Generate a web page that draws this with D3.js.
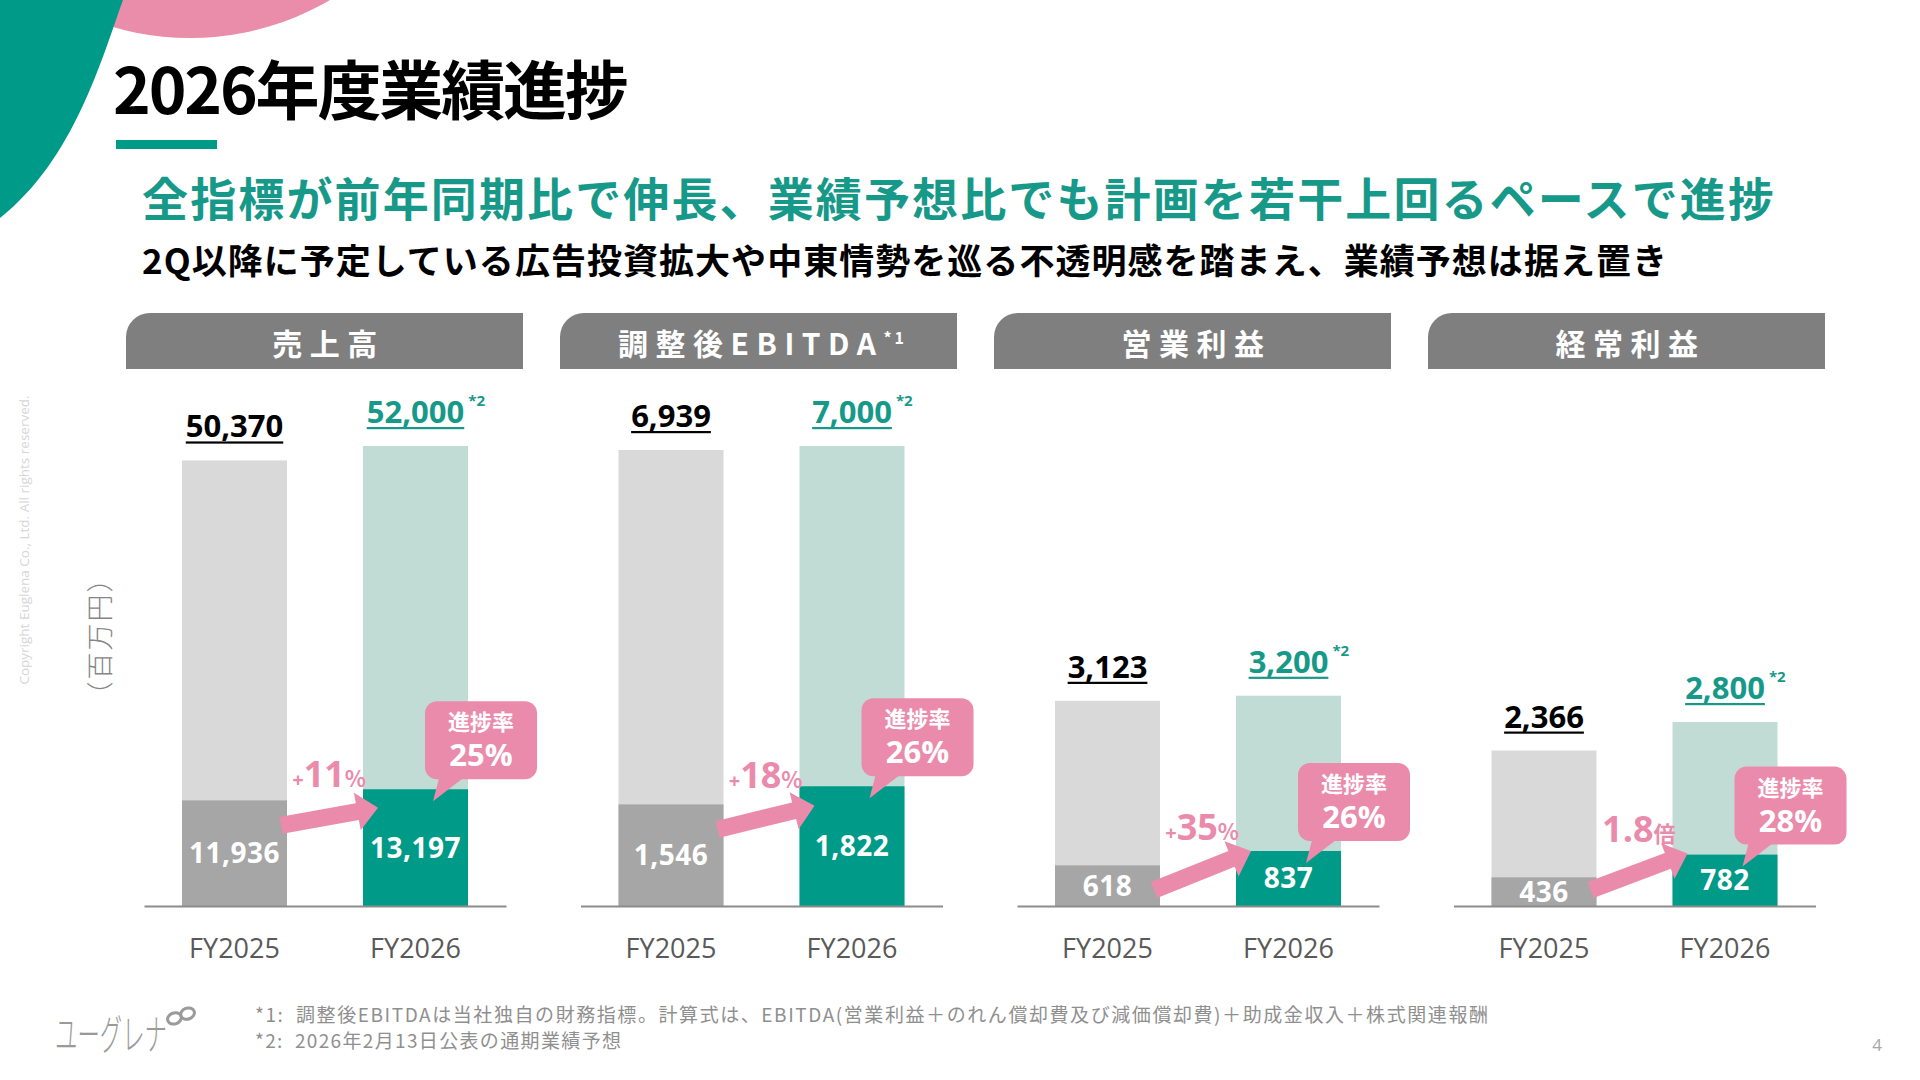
<!DOCTYPE html>
<html>
<head>
<meta charset="utf-8">
<script src="https://cdn.jsdelivr.net/npm/d3@7"></script>
<style>
  body { margin: 0; background: #fff; }
  svg text { font-family: 'Noto Sans CJK JP', 'Noto Sans', sans-serif; }
  svg .num { font-family: 'Open Sans', 'Noto Sans CJK JP', sans-serif; }
</style>
</head>
<body>
<div id="graf"></div>
<script>
// datos del grafico
const metrics = ['売上高', '調整後EBITDA', '営業利益', '経常利益']
const metricNotes = ['', '*1', '', '']
const years = ['FY2025', 'FY2026']
const full2025 = [50370, 6939, 3123, 2366]
const plan2026 = [52000, 7000, 3200, 2800]
const q1_2025 = [11936, 1546, 618, 436]
const q1_2026 = [13197, 1822, 837, 782]
const growthPrefix = ['+', '+', '+', '']
const growthValue = ['11', '18', '35', '1.8']
const growthSuffix = ['%', '%', '%', '倍']
const progressRate = ['25%', '26%', '26%', '28%']
const axisMax = [52000, 7000, 7000, 7000]

const fmt = d3.format(',')

// colores
const teal = '#009a88'
const tealText = '#17998a'
const pink = '#eb8bab'

const W = 1920, H = 1080
const svg = d3.select('#graf').append('svg')
  .attr('width', W).attr('height', H)

// decoracion superior izquierda
svg.append('circle')
  .attr('cx', 190).attr('cy', -239).attr('r', 277)
  .attr('fill', '#ea8dab')
svg.append('path')
  .attr('d', 'M0,0 L123,0 C102,58 74,160 0,218 Z')
  .attr('fill', teal)

// titulos
svg.append('text')
  .attr('x', 113).attr('y', 114)
  .attr('font-size', 64).attr('font-weight', 700).attr('fill', '#000')
  .attr('textLength', 516).attr('lengthAdjust', 'spacing')
  .text('2026年度業績進捗')
svg.append('rect')
  .attr('x', 116).attr('y', 140).attr('width', 101).attr('height', 9)
  .attr('fill', teal)

svg.append('text')
  .attr('x', 142).attr('y', 216)
  .attr('font-size', 46).attr('font-weight', 700).attr('fill', tealText)
  .attr('textLength', 1632).attr('lengthAdjust', 'spacing')
  .text('全指標が前年同期比で伸長、業績予想比でも計画を若干上回るペースで進捗')
svg.append('text')
  .attr('x', 142).attr('y', 274)
  .attr('font-size', 35).attr('font-weight', 700).attr('fill', '#000')
  .attr('textLength', 1525).attr('lengthAdjust', 'spacing')
  .text('2Q以降に予定している広告投資拡大や中東情勢を巡る不透明感を踏まえ、業績予想は据え置き')

// textos laterales
svg.append('text')
  .attr('transform', 'translate(29,540) rotate(-90)')
  .attr('class', 'num')
  .attr('text-anchor', 'middle')
  .attr('font-size', 13.5).attr('fill', '#d6d6d6')
  .text('Copyright Euglena Co., Ltd. All rights reserved.')
svg.append('text')
  .attr('transform', 'translate(110,636) rotate(-90)')
  .attr('text-anchor', 'middle')
  .attr('font-size', 27).attr('font-weight', 300).attr('fill', '#858585')
  .attr('letter-spacing', 2)
  .text('（百万円）')

// paneles
const baseY = 906
const plotH = 460
const headW = 397, headH = 56, headY = 313, headR = 24

function arrowPoints(S, T) {
  const dx = T[0] - S[0], dy = T[1] - S[1]
  const len = Math.hypot(dx, dy)
  const ux = dx / len, uy = dy / len
  const nx = -uy, ny = ux
  const bw = 8.5, hw = 19, hl = 21
  const bx = T[0] - ux * hl, by = T[1] - uy * hl
  return [
    [S[0] + nx * bw, S[1] + ny * bw],
    [bx + nx * bw, by + ny * bw],
    [bx + nx * hw, by + ny * hw],
    T,
    [bx - nx * hw, by - ny * hw],
    [bx - nx * bw, by - ny * bw],
    [S[0] - nx * bw, S[1] - ny * bw]
  ]
}

metrics.forEach((m, i) => {
  const cx = 325 + i * 436.5
  const hx = 126 + i * 434

  const g = svg.append('g')

  // cabecera gris
  g.append('path')
    .attr('d', `M${hx},${headY + headH} L${hx},${headY + headR} A${headR},${headR} 0 0 1 ${hx + headR},${headY} L${hx + headW},${headY} L${hx + headW},${headY + headH} Z`)
    .attr('fill', '#7f7f7f')
  const ht = g.append('text')
    .attr('x', hx + headW / 2 + 4).attr('y', headY + 42)
    .attr('text-anchor', 'middle')
    .attr('font-size', 30).attr('font-weight', 700).attr('fill', '#fff')
    .attr('letter-spacing', 7.5)
  ht.append('tspan').text(m)
  if (metricNotes[i]) {
    ht.append('tspan').attr('font-size', 16).attr('dy', -11).attr('letter-spacing', 3).text(metricNotes[i])
  }

  // escalas
  const x = d3.scaleBand()
    .domain(years)
    .range([cx - 181, cx + 181])
    .paddingInner(0.42)
    .paddingOuter(0.21)
  const y = d3.scaleLinear()
    .domain([0, axisMax[i]])
    .range([baseY, baseY - plotH])

  const rows = [
    { yr: 'FY2025', full: full2025[i], q1: q1_2025[i], light: '#d9d9d9', dark: '#a6a6a6', label: '#000' },
    { yr: 'FY2026', full: plan2026[i], q1: q1_2026[i], light: '#c0dcd5', dark: teal, label: tealText }
  ]

  g.selectAll('rect.full')
    .data(rows).enter().append('rect')
    .attr('class', 'full')
    .attr('x', d => x(d.yr)).attr('width', x.bandwidth())
    .attr('y', d => y(d.full)).attr('height', d => baseY - y(d.full))
    .attr('fill', d => d.light)
  g.selectAll('rect.q1')
    .data(rows).enter().append('rect')
    .attr('class', 'q1')
    .attr('x', d => x(d.yr)).attr('width', x.bandwidth())
    .attr('y', d => y(d.q1)).attr('height', d => baseY - y(d.q1))
    .attr('fill', d => d.dark)

  // valores anuales con subrayado
  rows.forEach((d, k) => {
    const bx = x(d.yr) + x.bandwidth() / 2
    const by = y(d.full) - 23
    const t = g.append('text')
      .attr('class', 'num')
      .attr('x', bx).attr('y', by)
      .attr('text-anchor', 'middle')
      .attr('font-size', 31).attr('font-weight', 700).attr('fill', d.label)
      .text(fmt(d.full))
    const tw = t.node().getComputedTextLength()
    g.append('rect')
      .attr('x', bx - tw / 2).attr('y', by + 4)
      .attr('width', tw).attr('height', 2.2)
      .attr('fill', d.label)
    if (k === 1) {
      g.append('text')
        .attr('class', 'num')
        .attr('x', bx + tw / 2 + 4).attr('y', by - 17)
        .attr('font-size', 15).attr('font-weight', 700).attr('fill', tealText)
        .text('*2')
    }
    // valor 1Q dentro de la barra
    g.append('text')
      .attr('class', 'num')
      .attr('x', bx).attr('y', (y(d.q1) + baseY) / 2 + 10)
      .attr('text-anchor', 'middle')
      .attr('font-size', 28).attr('font-weight', 700).attr('fill', '#fff')
      .attr('letter-spacing', 0.5)
      .text(fmt(d.q1))
  })

  // eje
  const axis = g.append('g')
    .attr('transform', `translate(0,${baseY})`)
    .call(d3.axisBottom(x).tickSize(0).tickSizeOuter(0).tickPadding(33))
  axis.select('.domain').attr('stroke', '#8c8c8c').attr('stroke-width', 2)
  axis.selectAll('text')
    .attr('class', 'num')
    .attr('font-size', 27).attr('fill', '#595959')

  // flecha de crecimiento
  const top25 = y(q1_2025[i]), top26 = y(q1_2026[i])
  const h26 = baseY - top26
  const sy = Math.min(top25 + 25, baseY - 16)
  const ty = top26 + Math.max(-5, Math.min(20, (h26 - 55) * 0.3))
  const S = [x('FY2025') + x.bandwidth() - 6, sy]
  const T = [x('FY2026') + 15, ty]
  g.append('path')
    .attr('d', d3.line()(arrowPoints(S, T)) + 'Z')
    .attr('fill', pink)

  const gl = g.append('text')
    .attr('class', 'num')
    .attr('x', x('FY2026') + 3).attr('y', (sy + ty) / 2 - 30)
    .attr('text-anchor', 'end')
    .attr('font-weight', 700).attr('fill', pink)
  if (growthPrefix[i]) gl.append('tspan').attr('font-size', 20).text(growthPrefix[i])
  gl.append('tspan').attr('font-size', 36).text(growthValue[i])
  gl.append('tspan').attr('font-size', 22).attr('font-family', "'Noto Sans CJK JP', sans-serif").text(growthSuffix[i])

  // globo de progreso
  const bl = x('FY2026') + 62
  const bb = top26 - 10
  const bw = 112, bh = 78
  g.append('rect')
    .attr('x', bl).attr('y', bb - bh)
    .attr('width', bw).attr('height', bh)
    .attr('rx', 12).attr('fill', pink)
  g.append('path')
    .attr('d', d3.line()([[bl + 14, bb - 1], [bl + 38, bb - 1], [bl + 8, bb + 22]]) + 'Z')
    .attr('fill', pink)
  g.append('text')
    .attr('x', bl + bw / 2).attr('y', bb - bh + 29)
    .attr('text-anchor', 'middle')
    .attr('font-size', 22).attr('font-weight', 700).attr('fill', '#fff')
    .text('進捗率')
  g.append('text')
    .attr('class', 'num')
    .attr('x', bl + bw / 2).attr('y', bb - bh + 65)
    .attr('text-anchor', 'middle')
    .attr('font-size', 31).attr('font-weight', 700).attr('fill', '#fff')
    .text(progressRate[i])
})

// pie de pagina
svg.append('text')
  .attr('x', 255).attr('y', 1022)
  .attr('font-size', 19).attr('fill', '#8f8f8f')
  .attr('textLength', 1233).attr('lengthAdjust', 'spacing')
  .style('white-space', 'pre')
  .text('*1:  調整後EBITDAは当社独自の財務指標。計算式は、EBITDA(営業利益＋のれん償却費及び減価償却費)＋助成金収入＋株式関連報酬')
svg.append('text')
  .attr('x', 255).attr('y', 1048)
  .attr('font-size', 19).attr('fill', '#8f8f8f')
  .attr('textLength', 366).attr('lengthAdjust', 'spacing')
  .style('white-space', 'pre')
  .text('*2:  2026年2月13日公表の通期業績予想')

// logo
svg.append('text')
  .attr('x', 55).attr('y', 1050)
  .attr('font-size', 42).attr('font-weight', 300).attr('fill', '#9a9a9a')
  .attr('textLength', 112).attr('lengthAdjust', 'spacingAndGlyphs')
  .text('ユーグレナ')
svg.append('g')
  .attr('transform', 'translate(181,1016) rotate(-20)')
  .selectAll('ellipse').data([-7, 7]).enter().append('ellipse')
  .attr('cx', d => d).attr('cy', 0).attr('rx', 7).attr('ry', 5.5)
  .attr('fill', 'none').attr('stroke', '#9a9a9a').attr('stroke-width', 3)

svg.append('text')
  .attr('class', 'num')
  .attr('x', 1877).attr('y', 1051)
  .attr('text-anchor', 'middle')
  .attr('font-size', 17).attr('fill', '#a6a6a6')
  .text('4')
</script>
</body>
</html>
